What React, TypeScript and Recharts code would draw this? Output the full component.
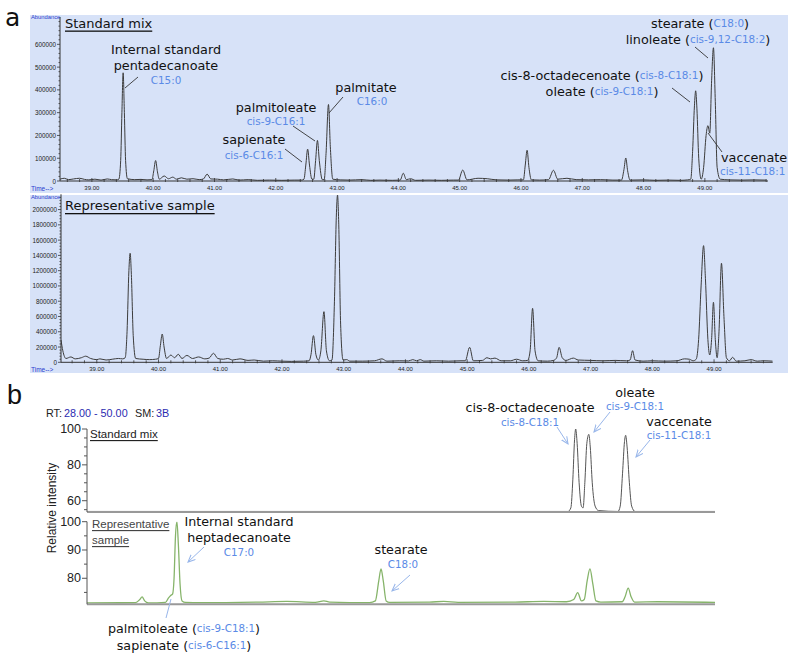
import React from 'react';
import { LineChart, Line, XAxis, YAxis } from 'recharts';

// ---------- Panel a: GC-MS chromatograms (time in min, abundance) ----------
const aStandardMix: [number, number][] = [
  [38.48, 8000], [38.55, 12000], [38.62, 6000], [38.7, 9000], [38.8, 12000], [38.88, 7000], [38.95, 5000],
  [39.05, 8000], [39.15, 4000], [39.25, 9000], [39.32, 6000], [39.4, 5000],
  [39.44, 8000], [39.47, 90000], [39.49, 300000], [39.51, 475000], [39.53, 300000], [39.55, 90000], [39.58, 10000],
  [39.7, 6000], [39.8, 7000], [39.9, 5000],
  [39.98, 6000], [40.01, 45000], [40.04, 90000], [40.07, 40000], [40.1, 8000],
  [40.18, 22000], [40.25, 10000], [40.32, 17000], [40.38, 8000], [40.46, 14000], [40.55, 8000], [40.65, 10000],
  [40.75, 6000], [40.82, 9000], [40.88, 30000], [40.94, 9000], [41.05, 8000], [41.15, 5000], [41.3, 9000],
  [41.4, 4000], [41.55, 6000], [41.7, 3000], [41.9, 4000], [42.1, 3000], [42.3, 4000], [42.42, 4000],
  [42.46, 8000], [42.49, 70000], [42.52, 140000], [42.55, 70000], [42.59, 8000],
  [42.62, 8000], [42.65, 90000], [42.68, 178000], [42.71, 90000], [42.76, 6000],
  [42.79, 6000], [42.82, 120000], [42.86, 336000], [42.89, 150000], [42.93, 8000],
  [43.05, 5000], [43.2, 4000], [43.4, 6000], [43.55, 3000], [43.7, 4000], [43.9, 3000],
  [44.03, 4000], [44.08, 34000], [44.13, 6000], [44.2, 10000], [44.28, 3000], [44.5, 4000], [44.7, 3000], [44.9, 4000],
  [44.98, 4000], [45.05, 48000], [45.12, 5000], [45.3, 12000], [45.45, 10000], [45.6, 5000], [45.8, 4000], [45.95, 5000],
  [46.04, 5000], [46.07, 70000], [46.1, 135000], [46.13, 60000], [46.17, 5000], [46.3, 4000],
  [46.45, 6000], [46.53, 47000], [46.6, 8000], [46.75, 12000], [46.9, 6000], [47.1, 5000], [47.3, 6000], [47.5, 4000],
  [47.64, 4000], [47.68, 50000], [47.71, 101000], [47.74, 45000], [47.78, 4000], [48.0, 5000], [48.2, 3000],
  [48.4, 4000], [48.6, 3000], [48.72, 5000],
  [48.77, 8000], [48.8, 130000], [48.83, 330000], [48.85, 396000], [48.87, 320000], [48.9, 100000], [48.94, 8000],
  [48.98, 60000], [49.02, 200000], [49.05, 243000], [49.08, 210000], [49.11, 440000], [49.14, 585000],
  [49.17, 350000], [49.2, 60000], [49.25, 8000], [49.4, 5000], [49.6, 4000], [49.8, 5000], [50.0, 4000],
];

const aSample: [number, number][] = [
  [38.42, 292000], [38.45, 150000], [38.5, 50000], [38.58, 70000], [38.65, 45000], [38.75, 60000], [38.82, 80000],
  [38.9, 50000], [39.0, 35000], [39.05, 45000], [39.15, 30000], [39.25, 40000], [39.35, 50000], [39.42, 45000],
  [39.46, 60000], [39.49, 400000], [39.52, 1200000], [39.54, 1428000], [39.56, 1150000], [39.59, 350000], [39.63, 50000],
  [39.75, 40000], [39.85, 35000], [39.95, 40000],
  [40.0, 50000], [40.03, 220000], [40.06, 370000], [40.09, 200000], [40.13, 50000],
  [40.2, 95000], [40.26, 60000], [40.32, 105000], [40.38, 50000], [40.46, 90000], [40.55, 50000], [40.65, 70000],
  [40.75, 45000], [40.82, 55000], [40.89, 118000], [40.96, 50000], [41.05, 40000], [41.12, 50000], [41.2, 30000],
  [41.32, 45000], [41.45, 25000], [41.55, 30000], [41.7, 15000], [41.85, 20000], [42.0, 15000], [42.15, 12000],
  [42.35, 15000], [42.44, 20000],
  [42.47, 100000], [42.51, 349000], [42.55, 100000], [42.59, 30000],
  [42.63, 150000], [42.68, 663000], [42.72, 150000], [42.77, 20000],
  [42.81, 30000], [42.85, 800000], [42.88, 1900000], [42.9, 2190000], [42.92, 1800000], [42.95, 500000], [42.99, 30000],
  [43.05, 35000], [43.1, 15000], [43.3, 15000], [43.5, 20000], [43.62, 45000], [43.7, 15000], [43.9, 20000],
  [44.05, 18000], [44.12, 35000], [44.18, 20000], [44.24, 35000], [44.3, 15000], [44.5, 20000], [44.7, 15000], [44.9, 20000],
  [44.97, 20000], [45.04, 196000], [45.1, 20000], [45.25, 25000], [45.32, 60000], [45.38, 45000], [45.45, 55000],
  [45.55, 20000], [45.7, 20000], [45.8, 40000], [45.9, 20000], [45.98, 25000],
  [46.02, 150000], [46.06, 707000], [46.1, 150000], [46.15, 20000], [46.3, 15000], [46.4, 25000],
  [46.45, 60000], [46.49, 196000], [46.54, 60000], [46.6, 25000], [46.72, 55000], [46.8, 30000], [47.0, 25000],
  [47.2, 20000], [47.4, 25000], [47.58, 20000],
  [47.64, 30000], [47.68, 152000], [47.72, 30000], [47.85, 15000], [48.0, 20000], [48.2, 15000], [48.4, 20000],
  [48.52, 45000], [48.6, 40000], [48.66, 20000],
  [48.71, 40000], [48.75, 300000], [48.79, 1000000], [48.83, 1528000], [48.86, 1100000], [48.9, 300000], [48.93, 96000],
  [48.96, 300000], [48.99, 786000], [49.02, 300000], [49.05, 60000], [49.08, 400000], [49.12, 1297000], [49.16, 600000],
  [49.2, 60000], [49.25, 20000], [49.3, 65000], [49.36, 15000], [49.5, 20000], [49.6, 35000], [49.7, 15000],
  [49.8, 20000], [49.95, 15000],
];

// ---------- Panel b: relative intensity vs RT ----------
const bStandardMix: [number, number][] = [
  [28, 54], [44.85, 54], [44.95, 56], [45.02, 72], [45.08, 94], [45.12, 100], [45.17, 92], [45.24, 70], [45.32, 57],
  [45.38, 56], [45.44, 70], [45.51, 92], [45.58, 97], [45.63, 90], [45.7, 70], [45.8, 57], [45.92, 54.5],
  [46.6, 54], [46.68, 57], [46.76, 75], [46.83, 93], [46.87, 96.5], [46.92, 90], [47.0, 70], [47.08, 57], [47.2, 54],
  [50, 54],
];

const bSample: [number, number][] = [
  [28, 71.3], [29.7, 71.4], [29.85, 72.5], [29.93, 73.4], [30.02, 72], [30.15, 71.3], [30.75, 71.5], [30.85, 73],
  [30.94, 74], [31.0, 74.5], [31.05, 80], [31.1, 95], [31.15, 100], [31.2, 92], [31.26, 78], [31.33, 72], [31.45, 71.5],
  [32, 71.4], [34, 71.6], [35, 71.8], [36, 71.5], [36.3, 72], [36.5, 71.6], [37.9, 71.4], [38.1, 72], [38.22, 79], [38.3, 83.3],
  [38.38, 79], [38.48, 72], [38.6, 71.5], [40, 71.6], [40.5, 71.8], [41, 71.5], [43, 71.6], [44, 71.8], [44.8, 71.7],
  [45.05, 72.5], [45.19, 74.9], [45.32, 72], [45.42, 72.5], [45.52, 79], [45.62, 83.3], [45.72, 78], [45.83, 72],
  [46, 71.6], [46.75, 71.7], [46.85, 73.5], [46.96, 76.5], [47.06, 73.5], [47.18, 71.6], [48, 71.7], [50, 71.5],
];

const aTopYLabels = [0, 100000, 200000, 300000, 400000, 500000, 600000];
const aBottomYLabels = [0, 200000, 400000, 600000, 800000, 1000000, 1200000, 1400000, 1600000, 1800000, 2000000];
const aXLabels = [39, 40, 41, 42, 43, 44, 45, 46, 47, 48, 49];
const bTopYLabels = [60, 80, 100];
const bBottomYLabels = [80, 90, 100];

const toRows = (pts: [number, number][]) => pts.map(([t, v]) => ({ t, v }));

const BG = '#d7e2f8';
const BLUE = '#5a8ae6';
const SANS = 'DejaVu Sans, Verdana, sans-serif';
const ARIAL = 'Liberation Sans, Arial, sans-serif';

const steps = (from: number, to: number, step: number) => {
  const out: number[] = [];
  for (let v = from; v <= to + 1e-9; v += step) out.push(Math.round(v * 1000) / 1000);
  return out;
};

const makeAXTick = (labels: number[]) => (props: any) => {
  const { x, y, payload } = props;
  const v = payload.value;
  const major = labels.some((l) => Math.abs(l - v) < 1e-6);
  return (
    <g>
      <line x1={x} x2={x} y1={y - (major ? 3 : 2)} y2={y + 1} stroke="#333" strokeWidth={0.8} />
      {major && (
        <text x={x} y={y + 7} textAnchor="middle" dominantBaseline="central" fontSize={6} fill="#222" fontFamily={ARIAL}>
          {v.toFixed(2)}
        </text>
      )}
    </g>
  );
};

const makeAYTick = (labels: number[]) => (props: any) => {
  const { x, y, payload } = props;
  const v = payload.value;
  const major = labels.includes(v);
  return (
    <g>
      <line x1={x - (major ? 3 : 1.5)} x2={x} y1={y} y2={y} stroke="#333" strokeWidth={0.8} />
      {major && (
        <text x={x - 4} y={y} textAnchor="end" dominantBaseline="central" fontSize={6.3} fill="#222" fontFamily={ARIAL}>
          {v}
        </text>
      )}
    </g>
  );
};

const makeBYTick = (labels: number[]) => (props: any) => {
  const { x, y, payload } = props;
  const v = payload.value;
  const major = labels.includes(v);
  return (
    <g>
      <line x1={x - (major ? 5 : 3)} x2={x} y1={y} y2={y} stroke="#555" strokeWidth={1} />
      {major && (
        <text x={x - 6} y={y} textAnchor="end" dominantBaseline="central" fontSize={12.5} fill="#222" fontFamily={ARIAL}>
          {v}
        </text>
      )}
    </g>
  );
};

const abs = (left: number, top: number): React.CSSProperties => ({ position: 'absolute', left, top });

export default function App() {
  return (
    <div style={{ position: 'absolute', left: 0, top: 0, width: 800, height: 663, background: '#fff', overflow: 'hidden' }}>
      <div style={{ position: 'absolute', left: 30, top: 15, width: 758, height: 178, background: BG }} />
      <div style={{ position: 'absolute', left: 30, top: 195, width: 758, height: 178, background: BG }} />

      {/* a: standard mix */}
      <div style={abs(0, 0)}>
        <LineChart width={800} height={200} data={toRows(aStandardMix)} margin={{ top: 17, right: 32, left: 0, bottom: 0 }}>
          <XAxis dataKey="t" type="number" domain={[38.48, 50.03]} allowDataOverflow ticks={steps(38.6, 50, 0.2)} interval={0}
            height={19} tickSize={0} tickMargin={0} tick={makeAXTick(aXLabels)} axisLine={{ stroke: '#333' }} />
          <YAxis type="number" domain={[0, 720000]} allowDataOverflow ticks={steps(0, 700000, 20000)} interval={0}
            width={60} tickSize={0} tickMargin={0} tick={makeAYTick(aTopYLabels)} axisLine={{ stroke: '#333' }} />
          <Line dataKey="v" type="monotone" stroke="#3c3c3c" strokeWidth={1} dot={false} isAnimationActive={false} />
        </LineChart>
      </div>

      {/* a: representative sample */}
      <div style={abs(0, 180)}>
        <LineChart width={800} height={200} data={toRows(aSample)} margin={{ top: 14.3, right: 27.3, left: 0, bottom: 0 }}>
          <XAxis dataKey="t" type="number" domain={[38.42, 49.95]} allowDataOverflow ticks={steps(38.6, 49.8, 0.2)} interval={0}
            height={17.7} tickSize={0} tickMargin={0} tick={makeAXTick(aXLabels)} axisLine={{ stroke: '#333' }} />
          <YAxis type="number" domain={[0, 2200000]} allowDataOverflow ticks={steps(0, 2160000, 40000)} interval={0}
            width={61} tickSize={0} tickMargin={0} tick={makeAYTick(aBottomYLabels)} axisLine={{ stroke: '#333' }} />
          <Line dataKey="v" type="monotone" stroke="#3c3c3c" strokeWidth={1} dot={false} isAnimationActive={false} />
        </LineChart>
      </div>

      {/* b: standard mix */}
      <div style={abs(0, 400)}>
        <LineChart width={800} height={120} data={toRows(bStandardMix)} margin={{ top: 29, right: 85, left: 0, bottom: 0 }}>
          <XAxis dataKey="t" type="number" domain={[28, 50]} allowDataOverflow height={8} tick={false} tickLine={false}
            axisLine={{ stroke: '#999', strokeWidth: 2 }} />
          <YAxis type="number" domain={[53.7, 100]} allowDataOverflow ticks={steps(55, 100, 5)} interval={0}
            width={87} tickSize={0} tickMargin={0} tick={makeBYTick(bTopYLabels)} axisLine={{ stroke: '#555' }} />
          <Line dataKey="v" type="monotone" stroke="#555" strokeWidth={1} dot={false} isAnimationActive={false} />
        </LineChart>
      </div>

      {/* b: representative sample */}
      <div style={abs(0, 510)}>
        <LineChart width={800} height={100} data={toRows(bSample)} margin={{ top: 11.7, right: 85, left: 0, bottom: 0 }}>
          <XAxis dataKey="t" type="number" domain={[28, 50]} allowDataOverflow height={5.7} tick={false} tickLine={false}
            axisLine={{ stroke: '#999', strokeWidth: 2 }} />
          <YAxis type="number" domain={[70.8, 100]} allowDataOverflow ticks={steps(75, 100, 5)} interval={0}
            width={87} tickSize={0} tickMargin={0} tick={makeBYTick(bBottomYLabels)} axisLine={{ stroke: '#555' }} />
          <Line dataKey="v" type="monotone" stroke="#86b46a" strokeWidth={1.3} dot={false} isAnimationActive={false} />
        </LineChart>
      </div>

      {/* annotations */}
      <svg width={800} height={663} style={{ position: 'absolute', left: 0, top: 0, pointerEvents: 'none' }}>
        <defs>
          <marker id="arr" viewBox="0 0 10 10" refX="9" refY="5" markerWidth="8" markerHeight="8" orient="auto">
            <path d="M0,1 L9,5 L0,9" fill="none" stroke="#98b6ea" strokeWidth="1.3" />
          </marker>
        </defs>

        <text x={5} y={17} dominantBaseline="central" fontSize={25} fontFamily={SANS} fill="#111">a</text>
        <text x={7} y={395} dominantBaseline="central" fontSize={27} fontFamily={ARIAL} fill="#111">b</text>

        {/* panel a axis captions */}
        <text x={31} y={17} dominantBaseline="central" fontSize={5.8} fontFamily={ARIAL} fill="#2a3ccf">Abundance</text>
        <text x={31} y={188} dominantBaseline="central" fontSize={6.5} fontFamily={ARIAL} fill="#2a3ccf">Time--&gt;</text>
        <text x={31} y={197} dominantBaseline="central" fontSize={5.8} fontFamily={ARIAL} fill="#2a3ccf">Abundance</text>
        <text x={31} y={369} dominantBaseline="central" fontSize={6.5} fontFamily={ARIAL} fill="#2a3ccf">Time--&gt;</text>

        <g fontFamily={SANS} fill="#111">
          <text x={65} y={23} dominantBaseline="central" fontSize={13} textDecoration="underline">Standard mix</text>
          <text x={65} y={205.5} dominantBaseline="central" fontSize={13} textDecoration="underline">Representative sample</text>

          <text x={166} y={49} textAnchor="middle" dominantBaseline="central" fontSize={12.8}>Internal standard</text>
          <text x={166} y={65} textAnchor="middle" dominantBaseline="central" fontSize={12.8}>pentadecanoate</text>
          <text x={166} y={80} textAnchor="middle" dominantBaseline="central" fontSize={10.4} fill={BLUE}>C15:0</text>

          <text x={366} y={87} textAnchor="middle" dominantBaseline="central" fontSize={12.8}>palmitate</text>
          <text x={372} y={101} textAnchor="middle" dominantBaseline="central" fontSize={10.4} fill={BLUE}>C16:0</text>

          <text x={276} y={107} textAnchor="middle" dominantBaseline="central" fontSize={12.8}>palmitoleate</text>
          <text x={276} y={121} textAnchor="middle" dominantBaseline="central" fontSize={10.4} fill={BLUE}>cis-9-C16:1</text>

          <text x={254} y={139} textAnchor="middle" dominantBaseline="central" fontSize={12.8}>sapienate</text>
          <text x={254} y={155} textAnchor="middle" dominantBaseline="central" fontSize={10.4} fill={BLUE}>cis-6-C16:1</text>

          <text x={700} y={23} textAnchor="middle" dominantBaseline="central" fontSize={12.8}>
            stearate (<tspan fill={BLUE} fontSize={10.4}>C18:0</tspan>)
          </text>
          <text x={698} y={39} textAnchor="middle" dominantBaseline="central" fontSize={12.8}>
            linoleate (<tspan fill={BLUE} fontSize={10.4}>cis-9,12-C18:2</tspan>)
          </text>
          <text x={602} y={75} textAnchor="middle" dominantBaseline="central" fontSize={12.8}>
            cis-8-octadecenoate (<tspan fill={BLUE} fontSize={10.4}>cis-8-C18:1</tspan>)
          </text>
          <text x={602} y={91} textAnchor="middle" dominantBaseline="central" fontSize={12.8}>
            oleate (<tspan fill={BLUE} fontSize={10.4}>cis-9-C18:1</tspan>)
          </text>
          <text x={721} y={157} dominantBaseline="central" fontSize={12.8}>vaccenate</text>
          <text x={720} y={171} dominantBaseline="central" fontSize={10.4} fill={BLUE}>cis-11-C18:1</text>
        </g>
        <g stroke="#333" strokeWidth={0.9}>
          <line x1={125} y1={88} x2={138} y2={77} />
          <line x1={329} y1={113} x2={343} y2={97} />
          <line x1={315} y1={141} x2={293} y2={126} />
          <line x1={302} y1={162} x2={285} y2={149} />
          <line x1={695} y1={47} x2={708} y2={58} />
          <line x1={672} y1={88} x2={690} y2={102} />
          <line x1={708} y1={133} x2={722} y2={152} />
        </g>

        {/* panel b captions */}
        <g fontFamily={ARIAL} fontSize={10.8} dominantBaseline="central">
          <text x={46} y={413} fill="#222">RT:</text>
          <text x={64} y={413} fill="#2b2bb0">28.00 - 50.00</text>
          <text x={135} y={413} fill="#222">SM:</text>
          <text x={156} y={413} fill="#2b2bb0">3B</text>
        </g>
        <text x={90} y={434} dominantBaseline="central" fontSize={11.5} fontFamily={ARIAL} fill="#222" textDecoration="underline">Standard mix</text>
        <text x={92} y={524} dominantBaseline="central" fontSize={11.5} fontFamily={ARIAL} fill="#444" textDecoration="underline">Representative</text>
        <text x={92} y={540} dominantBaseline="central" fontSize={11.5} fontFamily={ARIAL} fill="#444" textDecoration="underline">sample</text>
        <text x={52} y={508} textAnchor="middle" dominantBaseline="central" fontSize={12} fontFamily={ARIAL} fill="#222" transform="rotate(-90 52 508)">Relative intensity</text>

        <g fontFamily={SANS} fill="#111">
          <text x={530} y={407} textAnchor="middle" dominantBaseline="central" fontSize={12.7}>cis-8-octadecenoate</text>
          <text x={530} y={422} textAnchor="middle" dominantBaseline="central" fontSize={10.3} fill={BLUE}>cis-8-C18:1</text>
          <text x={635} y={392} textAnchor="middle" dominantBaseline="central" fontSize={12.7}>oleate</text>
          <text x={635} y={406} textAnchor="middle" dominantBaseline="central" fontSize={10.3} fill={BLUE}>cis-9-C18:1</text>
          <text x={679} y={421} textAnchor="middle" dominantBaseline="central" fontSize={12.7}>vaccenate</text>
          <text x={679} y={435} textAnchor="middle" dominantBaseline="central" fontSize={10.3} fill={BLUE}>cis-11-C18:1</text>

          <text x={239} y={521} textAnchor="middle" dominantBaseline="central" fontSize={12.7}>Internal standard</text>
          <text x={239} y={537} textAnchor="middle" dominantBaseline="central" fontSize={12.7}>heptadecanoate</text>
          <text x={239} y={552} textAnchor="middle" dominantBaseline="central" fontSize={10.3} fill={BLUE}>C17:0</text>
          <text x={401} y={549} textAnchor="middle" dominantBaseline="central" fontSize={12.7}>stearate</text>
          <text x={403} y={564} textAnchor="middle" dominantBaseline="central" fontSize={10.3} fill={BLUE}>C18:0</text>

          <text x={184} y={628} textAnchor="middle" dominantBaseline="central" fontSize={12.7}>
            palmitoleate (<tspan fill={BLUE} fontSize={10.3}>cis-9-C18:1</tspan>)
          </text>
          <text x={184} y={645} textAnchor="middle" dominantBaseline="central" fontSize={12.7}>
            sapienate (<tspan fill={BLUE} fontSize={10.3}>cis-6-C16:1</tspan>)
          </text>
        </g>
        <g stroke="#98b6ea" strokeWidth={1}>
          <line x1={557} y1={427} x2={568} y2={444} markerEnd="url(#arr)" />
          <line x1={610} y1={412} x2={594} y2={432} markerEnd="url(#arr)" />
          <line x1={650} y1={440} x2={636} y2={457} markerEnd="url(#arr)" />
          <line x1={204} y1={547} x2={188} y2={562} markerEnd="url(#arr)" />
          <line x1={410} y1={575} x2={392} y2={591} markerEnd="url(#arr)" />
          <line x1={166} y1={618} x2={171} y2={599} />
        </g>
      </svg>
    </div>
  );
}
